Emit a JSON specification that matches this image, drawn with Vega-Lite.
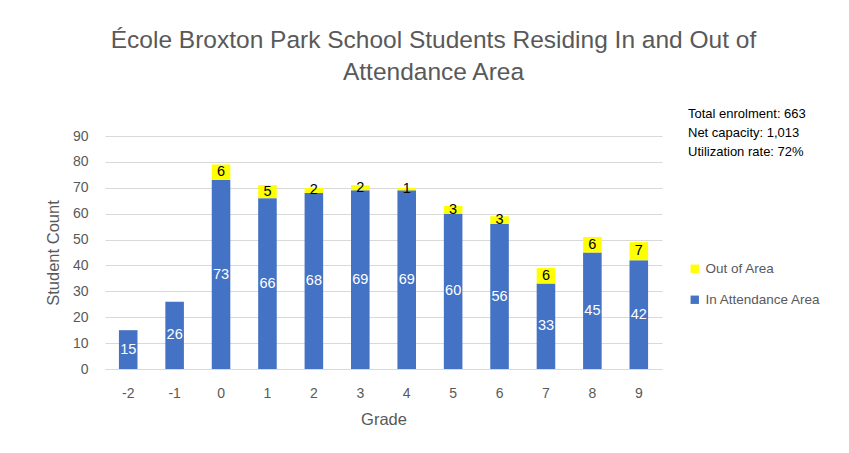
{
  "$schema": "https://vega.github.io/schema/vega-lite/v6.json",
  "width": 557,
  "height": 233,
  "autosize": {"type": "none"},
  "padding": {"left": 105, "top": 136, "right": 187, "bottom": 84},
  "background": "white",
  "config": {
    "font": "Liberation Sans",
    "view": {"stroke": null},
    "axis": {"labelFont": "Liberation Sans", "titleFont": "Liberation Sans"}
  },
  "title": {
    "text": ["École Broxton Park School Students Residing In and Out of", "Attendance Area"],
    "fontSize": 24.5,
    "fontWeight": "normal",
    "color": "#595959",
    "anchor": "middle",
    "dx": 50,
    "offset": 23,
    "lineHeight": 32
  },
  "data": {
    "values": [
      {"grade": "-2", "series": "In Attendance Area", "count": 15},
      {"grade": "-1", "series": "In Attendance Area", "count": 26},
      {"grade": "0", "series": "In Attendance Area", "count": 73},
      {"grade": "1", "series": "In Attendance Area", "count": 66},
      {"grade": "2", "series": "In Attendance Area", "count": 68},
      {"grade": "3", "series": "In Attendance Area", "count": 69},
      {"grade": "4", "series": "In Attendance Area", "count": 69},
      {"grade": "5", "series": "In Attendance Area", "count": 60},
      {"grade": "6", "series": "In Attendance Area", "count": 56},
      {"grade": "7", "series": "In Attendance Area", "count": 33},
      {"grade": "8", "series": "In Attendance Area", "count": 45},
      {"grade": "9", "series": "In Attendance Area", "count": 42},
      {"grade": "0", "series": "Out of Area", "count": 6},
      {"grade": "1", "series": "Out of Area", "count": 5},
      {"grade": "2", "series": "Out of Area", "count": 2},
      {"grade": "3", "series": "Out of Area", "count": 2},
      {"grade": "4", "series": "Out of Area", "count": 1},
      {"grade": "5", "series": "Out of Area", "count": 3},
      {"grade": "6", "series": "Out of Area", "count": 3},
      {"grade": "7", "series": "Out of Area", "count": 6},
      {"grade": "8", "series": "Out of Area", "count": 6},
      {"grade": "9", "series": "Out of Area", "count": 7}
    ]
  },
  "transform": [
    {"calculate": "datum.series === 'In Attendance Area' ? 0 : 1", "as": "ord"}
  ],
  "encoding": {
    "x": {
      "field": "grade",
      "type": "ordinal",
      "sort": ["-2", "-1", "0", "1", "2", "3", "4", "5", "6", "7", "8", "9"],
      "scale": {"paddingInner": 0.6, "paddingOuter": 0.3},
      "axis": {
        "title": "Grade",
        "titleFontSize": 16.5,
        "titleFontWeight": "normal",
        "titleColor": "#595959",
        "titlePadding": 11,
        "labelAngle": 0,
        "labelFontSize": 14,
        "labelColor": "#595959",
        "labelPadding": 17,
        "ticks": false,
        "domainColor": "#d9d9d9"
      }
    },
    "y": {
      "field": "count",
      "type": "quantitative",
      "stack": "zero",
      "scale": {"domain": [0, 90]},
      "axis": {
        "title": "Student Count",
        "titleFontSize": 16.5,
        "titleFontWeight": "normal",
        "titleColor": "#595959",
        "titlePadding": 11,
        "values": [0, 10, 20, 30, 40, 50, 60, 70, 80, 90],
        "labelFontSize": 14,
        "labelColor": "#595959",
        "labelPadding": 17,
        "ticks": false,
        "domain": false,
        "gridColor": "#d9d9d9"
      }
    },
    "order": {"field": "ord", "type": "quantitative"}
  },
  "layer": [
    {
      "mark": {"type": "bar"},
      "encoding": {
        "color": {
          "field": "series",
          "type": "nominal",
          "scale": {"domain": ["Out of Area", "In Attendance Area"], "range": ["#ffff00", "#4472c4"]},
          "legend": {
            "title": ["Total enrolment: 663", "Net capacity: 1,013", "Utilization rate: 72%"],
            "titleFontSize": 13,
            "titleFontWeight": "normal",
            "titleColor": "#000000",
            "titleLineHeight": 19,
            "titlePadding": 103,
            "orient": "none",
            "legendX": 583,
            "legendY": -28,
            "symbolType": "square",
            "symbolSize": 70,
            "symbolStrokeWidth": 0,
            "labelFontSize": 13.5,
            "labelColor": "#595959",
            "rowPadding": 16
          }
        }
      }
    },
    {
      "mark": {"type": "text", "fontSize": 14.5},
      "encoding": {
        "y": {"field": "count", "type": "quantitative", "stack": "zero", "bandPosition": 0.5},
        "text": {"field": "count", "type": "quantitative"},
        "color": {
          "field": "series",
          "type": "nominal",
          "scale": {"domain": ["Out of Area", "In Attendance Area"], "range": ["#000000", "#ffffff"]},
          "legend": null
        }
      }
    }
  ],
  "resolve": {"scale": {"color": "independent"}}
}
